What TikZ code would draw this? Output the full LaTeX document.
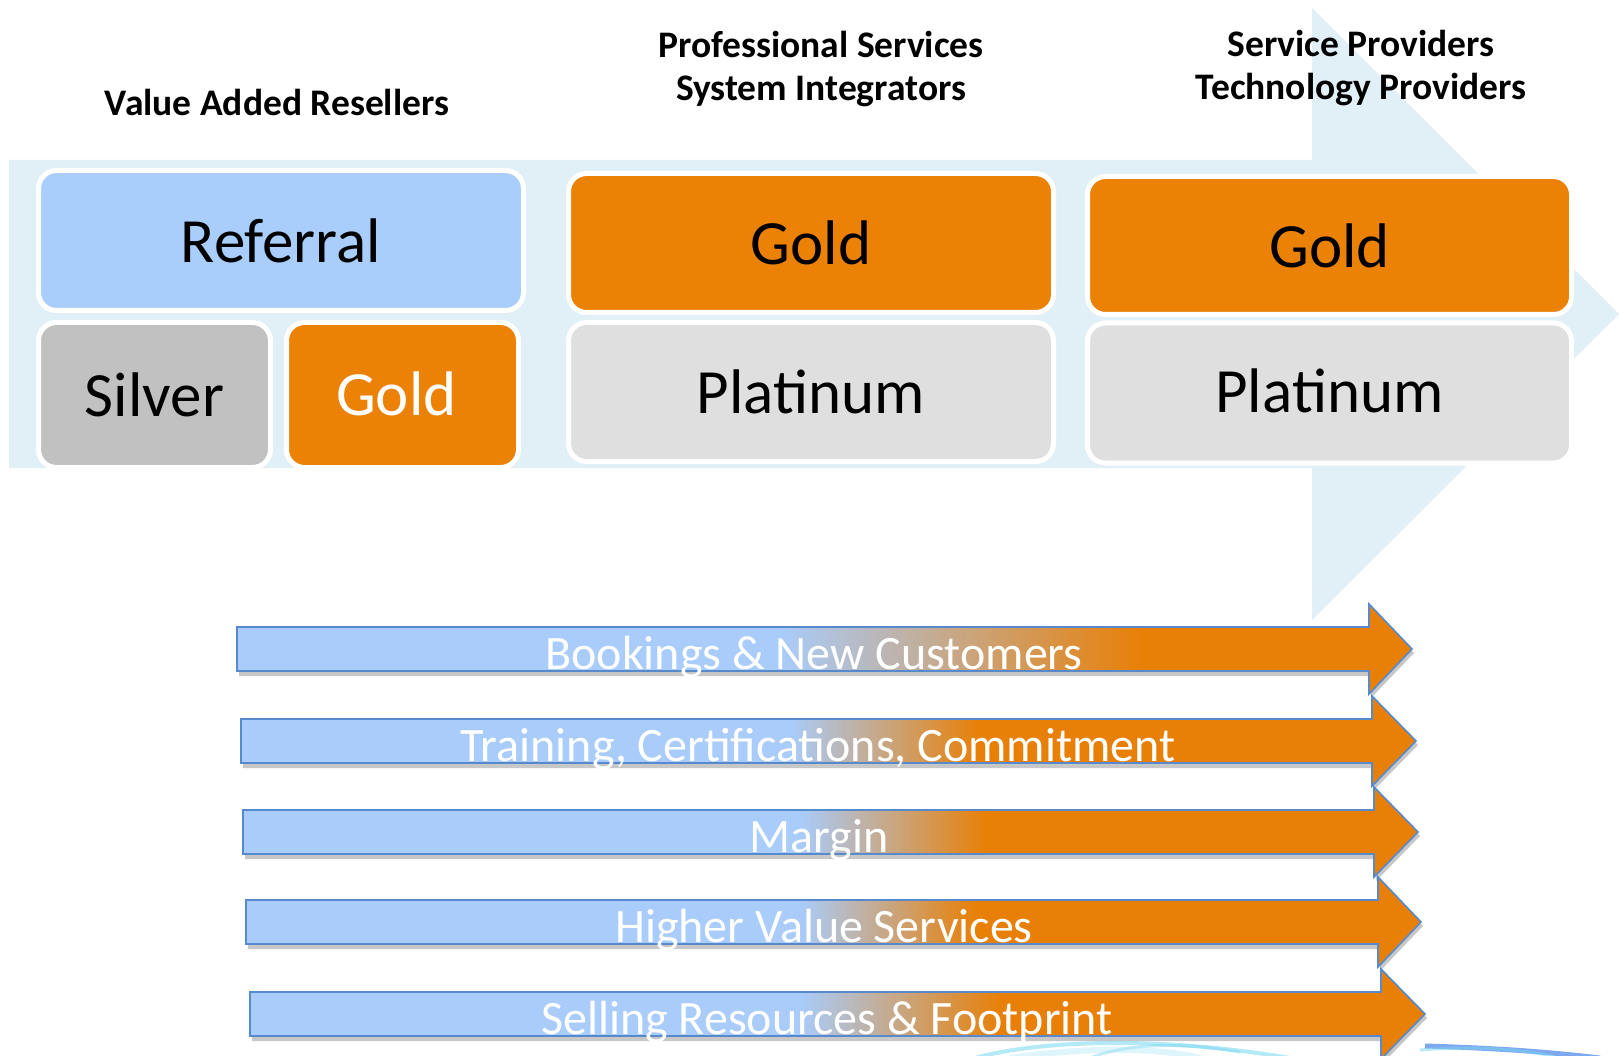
\documentclass[tikz,border=0pt]{standalone}
\usepackage{fontspec}
\setmainfont{Carlito}
\definecolor{bgarrow}{RGB}{225,239,247}
\definecolor{refblue}{RGB}{170,206,252}
\definecolor{silvergray}{RGB}{193,193,193}
\definecolor{goldorange}{RGB}{235,129,5}
\definecolor{platgray}{RGB}{223,223,223}
\definecolor{arrowblue}{RGB}{169,204,251}
\definecolor{arroworange}{RGB}{232,128,8}
\definecolor{arrowline}{RGB}{86,138,205}
\definecolor{swirlcyan}{RGB}{120,215,240}
\definecolor{swirlblue}{RGB}{40,110,230}
\begin{document}
\begin{tikzpicture}[x=1pt,y=-1pt,
  tier/.style={draw=white, line width=5pt, rounded corners=18pt, inner sep=0pt,
    font=\fontsize{63}{70}\selectfont, text=black},
  head/.style={font=\bfseries\fontsize{37.5}{42}\selectfont, anchor=base, inner sep=0pt},
  bartext/.style={font=\fontsize{48}{56}\selectfont, text=white, anchor=base, inner sep=0pt}]
\useasboundingbox (0,0) rectangle (1619,1056);
\fill[white] (0,0) rectangle (1619,1056);

% background arrow
\fill[bgarrow] (9,160) -- (1312,160) -- (1312,8) -- (1619,314) -- (1312,620) -- (1312,468) -- (9,468) -- cycle;

% headers
\node[head] (var) at (277,116) {Value Added Resellers};
\node[head] (ps) at (821,58) {Professional Services};
\node[head] (si) at (821,101) {System Integrators};
\node[head] (sp) at (1361,57) {Service Providers};
\node[head] (tp) at (1361,100) {Technology Providers};

% tier boxes
\node[tier, fill=refblue, minimum width=485, minimum height=140] (referral) at (281,240.5) {Referral};
\node[tier, fill=silvergray, minimum width=232, minimum height=145] (silver) at (154.5,395) {\raisebox{-3pt}{Silver}};
\node[tier, fill=goldorange, text=white, minimum width=232, minimum height=145] (goldvar) at (402.5,395) {\hspace*{-12pt}\raisebox{2pt}{Gold}};
\node[tier, fill=goldorange, minimum width=485, minimum height=139] (goldps) at (811,243) {Gold};
\node[tier, fill=platgray, minimum width=485, minimum height=139] (platps) at (811,392) {Platinum};
\node[tier, fill=goldorange, minimum width=484, minimum height=138] (goldsp) at (1329.5,245.5) {Gold};
\node[tier, fill=platgray, minimum width=484, minimum height=140] (platsp) at (1329.5,393) {\raisebox{5pt}{Platinum}};

% swirl at the bottom
\draw[swirlcyan, line width=4pt, opacity=0.55] (975,1058) .. controls (1040,1040) and (1160,1036) .. (1290,1058);
\draw[swirlcyan, line width=3pt, opacity=0.45] (1090,1058) .. controls (1120,1046) and (1170,1040) .. (1240,1052);
\draw[swirlcyan!70!white, line width=6pt, opacity=0.35] (1010,1058) .. controls (1080,1048) and (1150,1046) .. (1200,1058);
\draw[swirlblue, line width=5pt, opacity=0.6] (1425,1046) .. controls (1490,1048) and (1540,1051) .. (1600,1058);
\draw[swirlcyan, line width=3pt, opacity=0.5] (1420,1050) .. controls (1470,1046) and (1520,1048) .. (1560,1058);

% gradient arrows
\foreach \xl/\yc/\xn/\xt/\ta/\tb/\tx/\txt [count=\i] in {
  237/649/1369/1412/780/1140/814/{Bookings \& New Customers},
  241/741/1372/1416/790/978/818/{Training, Certifications, Commitment},
  243/832/1374/1418/800/985/819/{Margin},
  246/922/1378/1421/800/975/824/{Higher Value Services},
  250/1014/1381/1425/800/1000/827/{Selling Resources \& Footprint}} {
  \fill[black, opacity=0.22] (\xl+2,\yc-18) -- (\xn+2,\yc-18) -- (\xn+2,\yc-41) -- (\xt+2,\yc+4) -- (\xn+2,\yc+49) -- (\xn+2,\yc+27) -- (\xl+2,\yc+27) -- cycle;
  \begin{scope}
    \clip (\xl,\yc-22) -- (\xn,\yc-22) -- (\xn,\yc-45) -- (\xt,\yc) -- (\xn,\yc+45) -- (\xn,\yc+22) -- (\xl,\yc+22) -- cycle;
    \fill[arrowblue] (\xl-5,\yc-50) rectangle (\ta,\yc+50);
    \shade[left color=arrowblue, right color=arroworange] (\ta-0.5,\yc-50) rectangle (\tb+0.5,\yc+50);
    \fill[arroworange] (\tb,\yc-50) rectangle (\xt+5,\yc+50);
  \end{scope}
  \draw[arrowline, line width=1.6pt] (\xl,\yc-22) -- (\xn,\yc-22) -- (\xn,\yc-45) -- (\xt,\yc) -- (\xn,\yc+45) -- (\xn,\yc+22) -- (\xl,\yc+22) -- cycle;
  \node[bartext] (bar\i) at (\tx,\yc+20) {\txt};
}
\end{tikzpicture}
\end{document}
